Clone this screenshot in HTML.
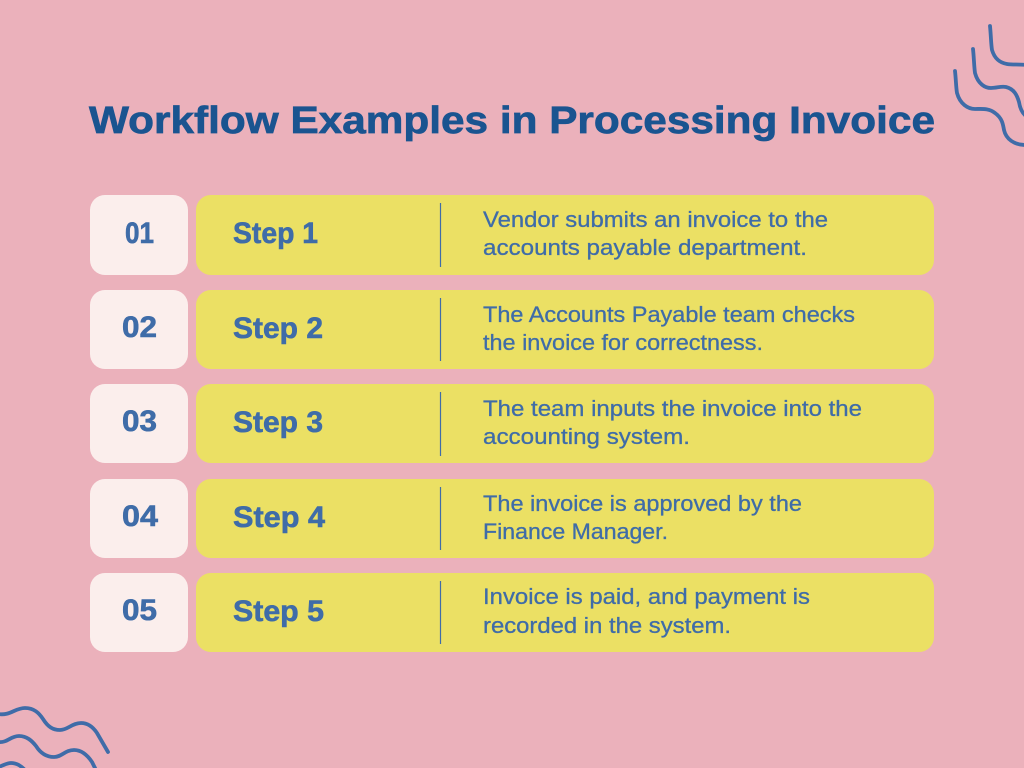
<!DOCTYPE html>
<html><head><meta charset="utf-8"><style>
html,body{margin:0;padding:0;width:1024px;height:768px;overflow:hidden;background:#ebb1bb}
svg{display:block}
text{font-family:"Liberation Sans",sans-serif}
.n,.s{font-weight:700;fill:#3f6ca8;stroke:#3f6ca8;stroke-width:.6}
.n{font-size:30px}.s{font-size:29.5px}
.d{font-size:22px;fill:#3f6ca8;stroke:#3f6ca8;stroke-width:.3}
.w{fill:#fbeeec}.y{fill:#ebe064}
.l{stroke:#3f6ca8;stroke-width:1.2}
.q{fill:none;stroke:#3f6ca8;stroke-width:3.8;stroke-linecap:round}
</style></head><body>
<svg width="1024" height="768" viewBox="0 0 1024 768" xmlns="http://www.w3.org/2000/svg">
<rect width="1024" height="768" fill="#ebb1bb"/>
<text x="89" y="133" font-size="38" font-weight="700" fill="#1a5490" stroke="#1a5490" stroke-width=".7" textLength="846" lengthAdjust="spacingAndGlyphs">Workflow Examples in Processing Invoice</text>

<rect class="w" x="90" y="195" width="98" height="80" rx="15"/><rect class="y" x="196" y="195" width="738" height="80" rx="15"/>
<rect class="w" x="90" y="290" width="98" height="79" rx="15"/><rect class="y" x="196" y="290" width="738" height="79" rx="15"/>
<rect class="w" x="90" y="384" width="98" height="79" rx="15"/><rect class="y" x="196" y="384" width="738" height="79" rx="15"/>
<rect class="w" x="90" y="479" width="98" height="79" rx="15"/><rect class="y" x="196" y="479" width="738" height="79" rx="15"/>
<rect class="w" x="90" y="573" width="98" height="79" rx="15"/><rect class="y" x="196" y="573" width="738" height="79" rx="15"/>

<line class="l" x1="440.5" y1="203" x2="440.5" y2="267"/>
<line class="l" x1="440.5" y1="298" x2="440.5" y2="361"/>
<line class="l" x1="440.5" y1="392" x2="440.5" y2="456"/>
<line class="l" x1="440.5" y1="487" x2="440.5" y2="550"/>
<line class="l" x1="440.5" y1="581" x2="440.5" y2="644"/>

<text class="n" x="125" y="243" textLength="29" lengthAdjust="spacingAndGlyphs">01</text>
<text class="n" x="122" y="337" textLength="35" lengthAdjust="spacingAndGlyphs">02</text>
<text class="n" x="122" y="431" textLength="35" lengthAdjust="spacingAndGlyphs">03</text>
<text class="n" x="122" y="526" textLength="36" lengthAdjust="spacingAndGlyphs">04</text>
<text class="n" x="122" y="620" textLength="35" lengthAdjust="spacingAndGlyphs">05</text>

<text class="s" x="233" y="243" textLength="85" lengthAdjust="spacingAndGlyphs">Step 1</text>
<text class="s" x="233" y="338" textLength="90" lengthAdjust="spacingAndGlyphs">Step 2</text>
<text class="s" x="233" y="432" textLength="90" lengthAdjust="spacingAndGlyphs">Step 3</text>
<text class="s" x="233" y="527" textLength="92" lengthAdjust="spacingAndGlyphs">Step 4</text>
<text class="s" x="233" y="621" textLength="91" lengthAdjust="spacingAndGlyphs">Step 5</text>

<text class="d" x="483" y="227" textLength="345" lengthAdjust="spacingAndGlyphs">Vendor submits an invoice to the</text>
<text class="d" x="483" y="255" textLength="324" lengthAdjust="spacingAndGlyphs">accounts payable department.</text>
<text class="d" x="483" y="322" textLength="372" lengthAdjust="spacingAndGlyphs">The Accounts Payable team checks</text>
<text class="d" x="483" y="350" textLength="280" lengthAdjust="spacingAndGlyphs">the invoice for correctness.</text>
<text class="d" x="483" y="416" textLength="379" lengthAdjust="spacingAndGlyphs">The team inputs the invoice into the</text>
<text class="d" x="483" y="444" textLength="207" lengthAdjust="spacingAndGlyphs">accounting system.</text>
<text class="d" x="483" y="511" textLength="319" lengthAdjust="spacingAndGlyphs">The invoice is approved by the</text>
<text class="d" x="483" y="539" textLength="185" lengthAdjust="spacingAndGlyphs">Finance Manager.</text>
<text class="d" x="483" y="604" textLength="327" lengthAdjust="spacingAndGlyphs">Invoice is paid, and payment is</text>
<text class="d" x="483" y="633" textLength="248" lengthAdjust="spacingAndGlyphs">recorded in the system.</text>

<path class="q" d="M990 26C991 36 991 44 992 50C995 60 1001 63 1007 64C1013 65 1019 64 1026 65"/>
<path class="q" d="M973 49C974 58 974 66 975 73C978 84 985 88 991 88C997 88 1001 86 1006 87C1014 89 1017 95 1019 102C1020 108 1022 113 1026 116"/>
<path class="q" d="M955 71C956 80 956 87 957 93C960 104 968 109 975 109C982 109 989 108 995 113C1002 118 1003 124 1004 130C1006 139 1014 145 1026 145"/>

<path class="q" d="M-2 714C10 716 15 708 25 708C34 708 39 713 43 719C48 727 53 730 60 730C68 730 72 723 81 723C88 723 93 727 97 733L108 752"/>
<path class="q" d="M-2 742C8 743 10 736 19 736C27 736 32 741 36 746C41 754 47 757 54 757C62 757 65 750 74 750C82 750 88 756 92 762L96 770"/>
<path class="q" d="M-2 767C3 766 6 763 11 763C17 763 21 766 25 770"/>
</svg>
</body></html>
